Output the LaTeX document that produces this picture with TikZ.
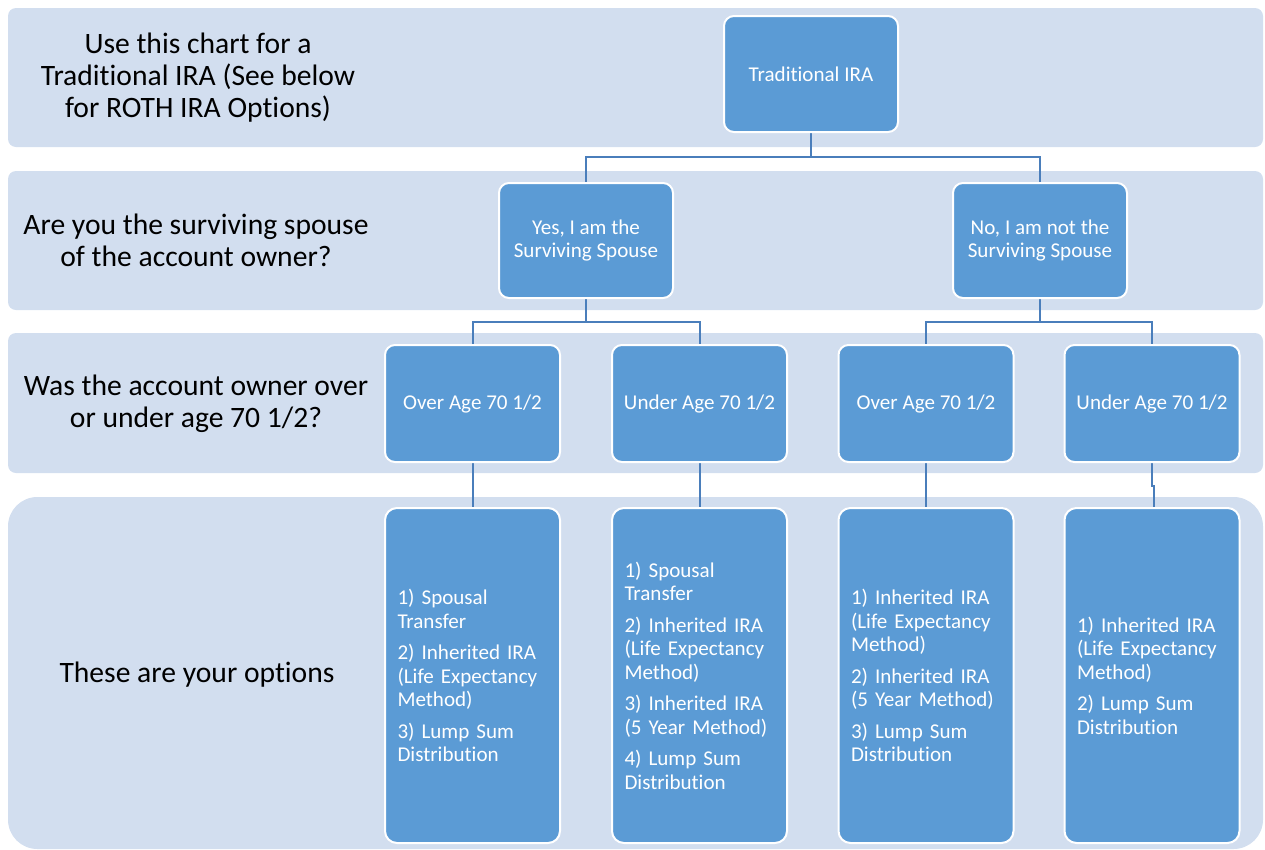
\documentclass[tikz,border=0pt]{standalone}
\usepackage{fontspec}
\setmainfont{Carlito}[RawFeature={-liga;-dlig}]
\usetikzlibrary{backgrounds}
\definecolor{bandfill}{HTML}{D2DEEF}
\definecolor{boxblue}{HTML}{5B9BD5}
\definecolor{connblue}{HTML}{4A7EBB}
\tikzset{
  band/.style={fill=bandfill},
  rowlabel/.style={align=center, text=black, font=\fontsize{22.2}{24}\selectfont},
  boxbase/.style={draw=white, line width=1.5pt, fill=boxblue, text=white,
    rounded corners=7.5pt, font=\fontsize{15.8}{17.6}\selectfont, inner sep=0pt},
  topbox/.style={boxbase, minimum width=130.5pt, minimum height=87pt, align=center},
  midbox/.style={boxbase, minimum width=130.5pt, minimum height=86.25pt, align=center},
  agebox/.style={boxbase, minimum width=131.25pt, minimum height=87.75pt, align=center},
  optbox/.style={boxbase, minimum width=131.25pt, minimum height=251.25pt,
    rounded corners=9pt, text width=112.5pt, align=left},
  conn/.style={draw=connblue, line width=1.5pt}
}
\begin{document}
\begin{tikzpicture}[x=0.75pt,y=-0.75pt]
\useasboundingbox (0,0) rectangle (1265,850);
% row labels
\node[rowlabel] (l1) at (198,78) {Use this chart for a\\Traditional IRA (See below\\for ROTH IRA Options)};
\node[rowlabel] (l2) at (196,240) {Are you the surviving spouse\\of the account owner?};
\node[rowlabel] (l3) at (196,404) {Was the account owner over\\or under age 70 1/2?};
\node[rowlabel] (l4) at (197,675) {These are your options};
% boxes
\node[topbox] (trad) at (811,74) {Traditional IRA};
\node[midbox] (yes) at (586,240.5) {Yes, I am the\\Surviving Spouse};
\node[midbox] (no) at (1040,240.5) {No, I am not the\\Surviving Spouse};
\node[agebox] (o1) at (472.5,403.5) {Over Age 70 1/2};
\node[agebox] (u1) at (699.5,403.5) {Under Age 70 1/2};
\node[agebox] (o2) at (926,403.5) {Over Age 70 1/2};
\node[agebox] (u2) at (1152,403.5) {Under Age 70 1/2};
\node[optbox] (p1) at (472.5,675.5) {1) Spousal\\Transfer\\[6pt]2) Inherited IRA\\(Life Expectancy\\Method)\\[6pt]3) Lump Sum\\Distribution};
\node[optbox] (p2) at (699.5,675.5) {1) Spousal\\Transfer\\[6pt]2) Inherited IRA\\(Life Expectancy\\Method)\\[6pt]3) Inherited IRA\\(5 Year Method)\\[6pt]4) Lump Sum\\Distribution};
\node[optbox] (p3) at (926,675.5) {1) Inherited IRA\\(Life Expectancy\\Method)\\[6pt]2) Inherited IRA\\(5 Year Method)\\[6pt]3) Lump Sum\\Distribution};
\node[optbox] (p4) at (1152,675.5) {1) Inherited IRA\\(Life Expectancy\\Method)\\[6pt]2) Lump Sum\\Distribution};
% connector junctions
\coordinate (j1) at (811,157);
\coordinate (j2) at (586,322);
\coordinate (j3) at (1040,322);
\coordinate (k4) at (1152,486);
\begin{scope}[on background layer]
% bands
\fill[band, rounded corners=6pt] (8,8) rectangle (1263,147);
\fill[band, rounded corners=6pt] (8,171) rectangle (1263,310);
\fill[band, rounded corners=6pt] (8,333) rectangle (1263,473);
\fill[band, rounded corners=22pt] (8,497) rectangle (1263,849);
% connectors
\draw[conn] (trad.south) -- (j1);
\draw[conn] (yes.north) |- (j1) -| (no.north);
\draw[conn] (yes.south) -- (j2);
\draw[conn] (o1.north) |- (j2) -| (u1.north);
\draw[conn] (no.south) -- (j3);
\draw[conn] (o2.north) |- (j3) -| (u2.north);
\draw[conn] (o1.south) -- (p1.north);
\draw[conn] (u1.south) -- (p2.north);
\draw[conn] (o2.south) -- (p3.north);
\draw[conn] (u2.south) -- (k4) -- ++(1.5,0) -- ([xshift=1.5*0.75pt]p4.north);
\end{scope}
\end{tikzpicture}
\end{document}
